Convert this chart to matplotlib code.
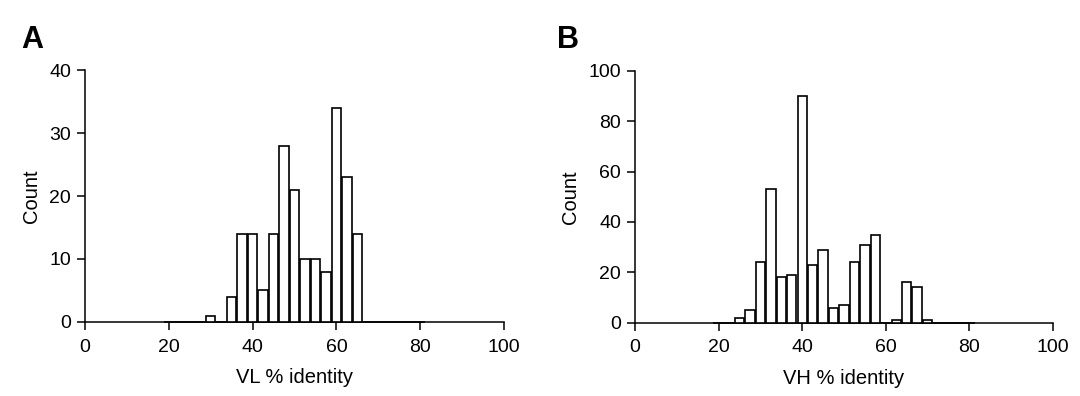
import matplotlib
matplotlib.use('Agg')
import matplotlib.pyplot as plt

plt.rcParams['font.family'] = ['Liberation Sans', 'DejaVu Sans']

# bin centres (% identity), 2.5 wide
bin_centres = [20, 22.5, 25, 27.5, 30, 32.5, 35, 37.5, 40, 42.5, 45, 47.5, 50,
               52.5, 55, 57.5, 60, 62.5, 65, 67.5, 70, 72.5, 75, 77.5, 80]
vl_counts = [0, 0, 0, 0, 1, 0, 4, 14, 14, 5, 14, 28, 21,
             10, 10, 8, 34, 23, 14, 0, 0, 0, 0, 0, 0]
vh_counts = [0, 0, 2, 5, 24, 53, 18, 19, 90, 23, 29, 6, 7,
             24, 31, 35, 0, 1, 16, 14, 1, 0, 0, 0, 0]

panels = [
    ('A', vl_counts, 'VL % identity', [0, 10, 20, 30, 40], 40),
    ('B', vh_counts, 'VH % identity', [0, 20, 40, 60, 80, 100], 100),
]
axes_pos = [[0.0787, 0.187, 0.388, 0.636], [0.588, 0.185, 0.387, 0.636]]
letter_x = [0.02, 0.516]

fig = plt.figure(figsize=(10.8, 3.96), dpi=100)
for i, (letter, counts, xlab, yticks, ymax) in enumerate(panels):
    ax = fig.add_axes(axes_pos[i])
    # empty bins drawn full width so the baseline reads as one line
    widths = [2.5 if c == 0 else 2.25 for c in counts]
    ax.bar(bin_centres, counts, width=widths, color='white', edgecolor='black',
           linewidth=1.2, clip_on=False, zorder=3)
    ax.set_xlim(0, 100)
    ax.set_ylim(0, ymax)
    ax.set_xticks([0, 20, 40, 60, 80, 100])
    ax.set_yticks(yticks)
    ax.spines['top'].set_visible(False)
    ax.spines['right'].set_visible(False)
    ax.spines['left'].set_linewidth(1.1)
    ax.spines['bottom'].set_linewidth(1.1)
    ax.tick_params(direction='out', length=6, width=1.1, labelsize=14, pad=4)
    ax.tick_params(axis='x', pad=6)
    ax.set_xlabel(xlab, fontsize=14.5, labelpad=9)
    ax.set_ylabel('Count', fontsize=14.5, labelpad=6)
    fig.text(letter_x[i], 0.88, letter, fontsize=22, fontweight='bold')

fig.savefig('out.png', dpi=100)
